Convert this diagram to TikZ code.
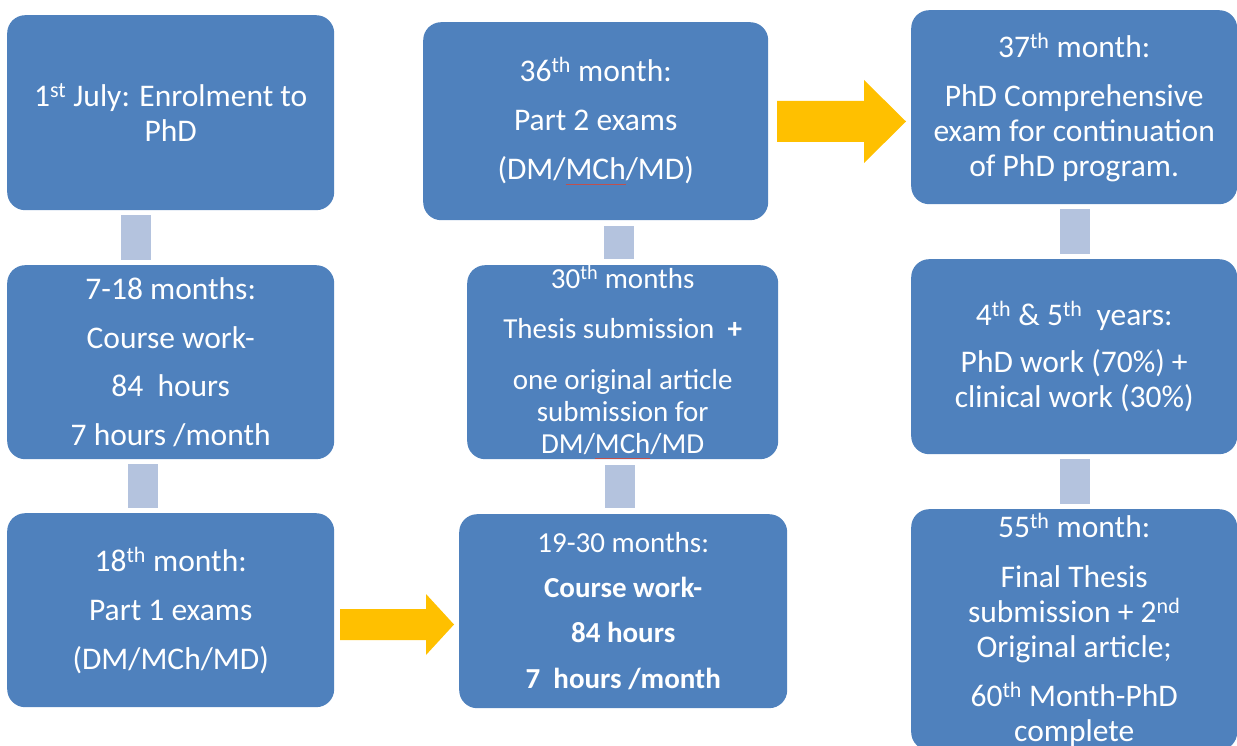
\documentclass[tikz,border=0pt]{standalone}
\usepackage{fontspec}
\setmainfont{Carlito}
\usetikzlibrary{calc}
\definecolor{boxblue}{HTML}{4F81BD}
\definecolor{barblue}{HTML}{B4C3DE}
\definecolor{arrowgold}{HTML}{FFC000}
\definecolor{sqred}{HTML}{C0504D}
\newcommand\redsq[1]{\setbox0\hbox{#1}\rlap{\textcolor{sqred}{\rule[-5pt]{\wd0}{0.9pt}}}\box0}
\newcommand\sups[1]{\textsuperscript{#1}}
\tikzset{
  box/.style={fill=boxblue, rounded corners=18pt, text=white, align=center,
    inner sep=0pt, anchor=north west},
  bigtxt/.style={font=\fontsize{31.5}{35}\selectfont},
  smalltxt/.style={font=\fontsize{29}{32}\selectfont},
  bar/.style={draw=barblue, line width=30pt, shorten <=5pt, shorten >=5pt},
  blockarrow/.style={fill=arrowgold},
}
\begin{document}
\begin{tikzpicture}[x=1pt,y=-1pt]
\useasboundingbox (0,0) rectangle (1237,746);
% column 1
\node[box,bigtxt,minimum width=327pt,minimum height=195pt] (A) at (7,15)
  {1\sups{st} July: Enrolment to\\PhD};
\node[box,bigtxt,minimum width=327pt,minimum height=194pt] (B) at (7,265)
  {7-18 months:\\[13.5pt]Course work-\\[13.5pt]84\ \ hours\\[13.5pt]7 hours /month};
\node[box,bigtxt,minimum width=327pt,minimum height=194pt] (C) at (7,513)
  {18\sups{th} month:\\[14pt]Part 1 exams\\[14pt](DM/MCh/MD)};
% column 2
\node[box,bigtxt,minimum width=345pt,minimum height=198pt] (D) at (423,22)
  {36\sups{th} month:\\[14pt]Part 2 exams\\[14pt](DM/\redsq{MCh}/MD)};
\node[box,smalltxt,minimum width=311pt,minimum height=194pt] (E) at (467,265)
  {30\sups{th} months\\[18pt]Thesis submission\ \ \textbf{+}\\[19pt]one original article\\submission for\\DM/\redsq{MCh}/MD};
\node[box,smalltxt,minimum width=328pt,minimum height=194pt] (F) at (459,514)
  {19-30 months:\\[13pt]\textbf{Course work-}\\[13pt]\textbf{84 hours}\\[14pt]\textbf{7\ \ hours /month}};
% column 3
\node[box,bigtxt,minimum width=326pt,minimum height=194pt] (G) at (911,10)
  {37\sups{th} month:\\[14pt]PhD Comprehensive\\exam for continuation\\of PhD program.};
\node[box,bigtxt,minimum width=326pt,minimum height=195pt] (H) at (911,259)
  {4\sups{th} \& 5\sups{th}\ \ years:\\[12pt]PhD work (70\%) +\\clinical work (30\%)};
\node[box,bigtxt,minimum width=326pt,minimum height=241pt] (I) at (911,509)
  {55\sups{th} month:\\[15pt]Final Thesis\\submission + 2\sups{nd}\\Original article;\\[14pt]60\sups{th} Month-PhD\\complete};
% vertical bar connectors
\coordinate (c1a) at (136,0);
\coordinate (c1b) at (143,0);
\coordinate (c2a) at (619,0);
\coordinate (c2b) at (620,0);
\coordinate (c3) at (1075,0);
\draw[bar] (A.south -| c1a) -- (B.north -| c1a);
\draw[bar] (B.south -| c1b) -- (C.north -| c1b);
\draw[bar, shorten <=6pt, shorten >=6pt] (D.south -| c2a) -- (E.north -| c2a);
\draw[bar, shorten <=6pt, shorten >=6pt] (E.south -| c2b) -- (F.north -| c2b);
\draw[bar] (G.south -| c3) -- (H.north -| c3);
\draw[bar] (H.south -| c3) -- (I.north -| c3);
% block arrows
\coordinate (a1) at (777,121.5);
\coordinate (a2) at (340,624.5);
\fill[blockarrow] (a1) ++(0,-20.5) -- ++(87,0) -- ++(0,-21) -- ++(42,41.5)
  -- ++(-42,41.5) -- ++(0,-21) -- ++(-87,0) -- cycle;
\fill[blockarrow] (a2) ++(0,-15.5) -- ++(86,0) -- ++(0,-15) -- ++(28,30.5)
  -- ++(-28,30.5) -- ++(0,-15) -- ++(-86,0) -- cycle;
\end{tikzpicture}
\end{document}
